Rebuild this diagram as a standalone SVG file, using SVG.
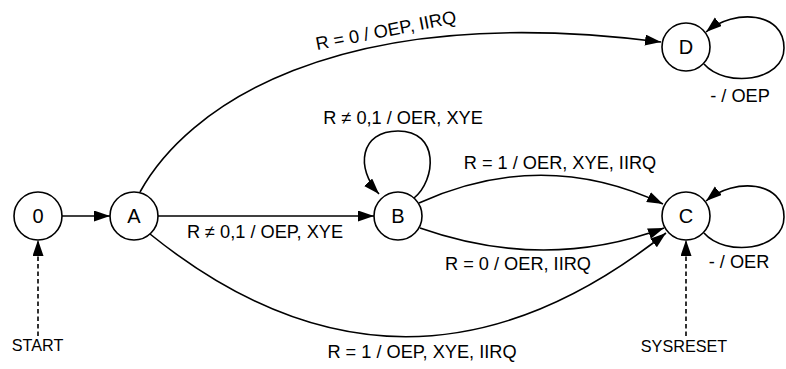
<svg xmlns="http://www.w3.org/2000/svg" width="786" height="369" viewBox="0 0 786 369">
<style>
.node circle{fill:#fff;stroke:#000;stroke-width:1.6}
.node text{font-family:"Liberation Sans",Arial,sans-serif;font-size:20px;text-anchor:middle;fill:#000}
.edge{fill:none;stroke:#000;stroke-width:1.6;marker-end:url(#ah)}
.dash{stroke-dasharray:4.5 3}
.lbl{font-family:"Liberation Sans",Arial,sans-serif;font-size:18.2px;text-anchor:middle;fill:#000}
.ext{font-family:"Liberation Sans",Arial,sans-serif;font-size:16.2px;text-anchor:middle;fill:#000}
</style>
<defs>
<marker id="ah" markerUnits="userSpaceOnUse" markerWidth="17" markerHeight="12" refX="16" refY="5.5" orient="auto">
<path d="M0,0 L16,5.5 L0,11 z" fill="#000"/>
</marker>
</defs>
<rect width="786" height="369" fill="#fff"/>
<g id="connectors">
<path class="edge" d="M62,216 L110,216"/>
<path class="edge" d="M158,216 L374,216"/>
<path class="edge" d="M140,192 C185,110 330,0 661,42"/>
<path class="edge" d="M414,198 C436,180 440,131 398,131 C360,131 355,168 379,194"/>
<path class="edge" d="M419,203 Q543,147 663,204"/>
<path class="edge" d="M420,228 Q545,272 664,228"/>
<path class="edge" d="M150,234 Q405,440 666,233"/>
<path class="edge" d="M704,64 C725,88 784,82 784,48 C784,12 735,8 706,32"/>
<path class="edge" d="M704,233 C725,257 784,251 784,217 C784,181 735,177 706,201"/>
<path class="edge dash" d="M38,336 L38,240"/>
<path class="edge dash" d="M686,336 L686,240"/>
</g>
<g id="labels">
<text class="lbl" x="387" y="36.5" transform="rotate(-11 387 36.5)">R = 0 / OEP, IIRQ</text>
<text class="lbl" x="403" y="124">R ≠ 0,1 / OER, XYE</text>
<text class="lbl" x="265" y="238">R ≠ 0,1 / OEP, XYE</text>
<text class="lbl" x="560" y="169">R = 1 / OER, XYE, IIRQ</text>
<text class="lbl" x="518" y="270">R = 0 / OER, IIRQ</text>
<text class="lbl" x="422" y="358">R = 1 / OEP, XYE, IIRQ</text>
<text class="lbl" x="740" y="102">- / OEP</text>
<text class="lbl" x="739" y="268">- / OER</text>
<text class="ext" x="37.5" y="351">START</text>
<text class="ext" x="684" y="352">SYSRESET</text>
</g>
<g id="node-0" class="node"><circle cx="38" cy="216" r="24"/><text x="38" y="223">0</text></g>
<g id="node-A" class="node"><circle cx="134" cy="216" r="24"/><text x="134" y="223">A</text></g>
<g id="node-B" class="node"><circle cx="398" cy="216" r="24"/><text x="398" y="223">B</text></g>
<g id="node-C" class="node"><circle cx="686" cy="216" r="24"/><text x="686" y="223">C</text></g>
<g id="node-D" class="node"><circle cx="686" cy="47" r="24"/><text x="686" y="54">D</text></g>
</svg>
